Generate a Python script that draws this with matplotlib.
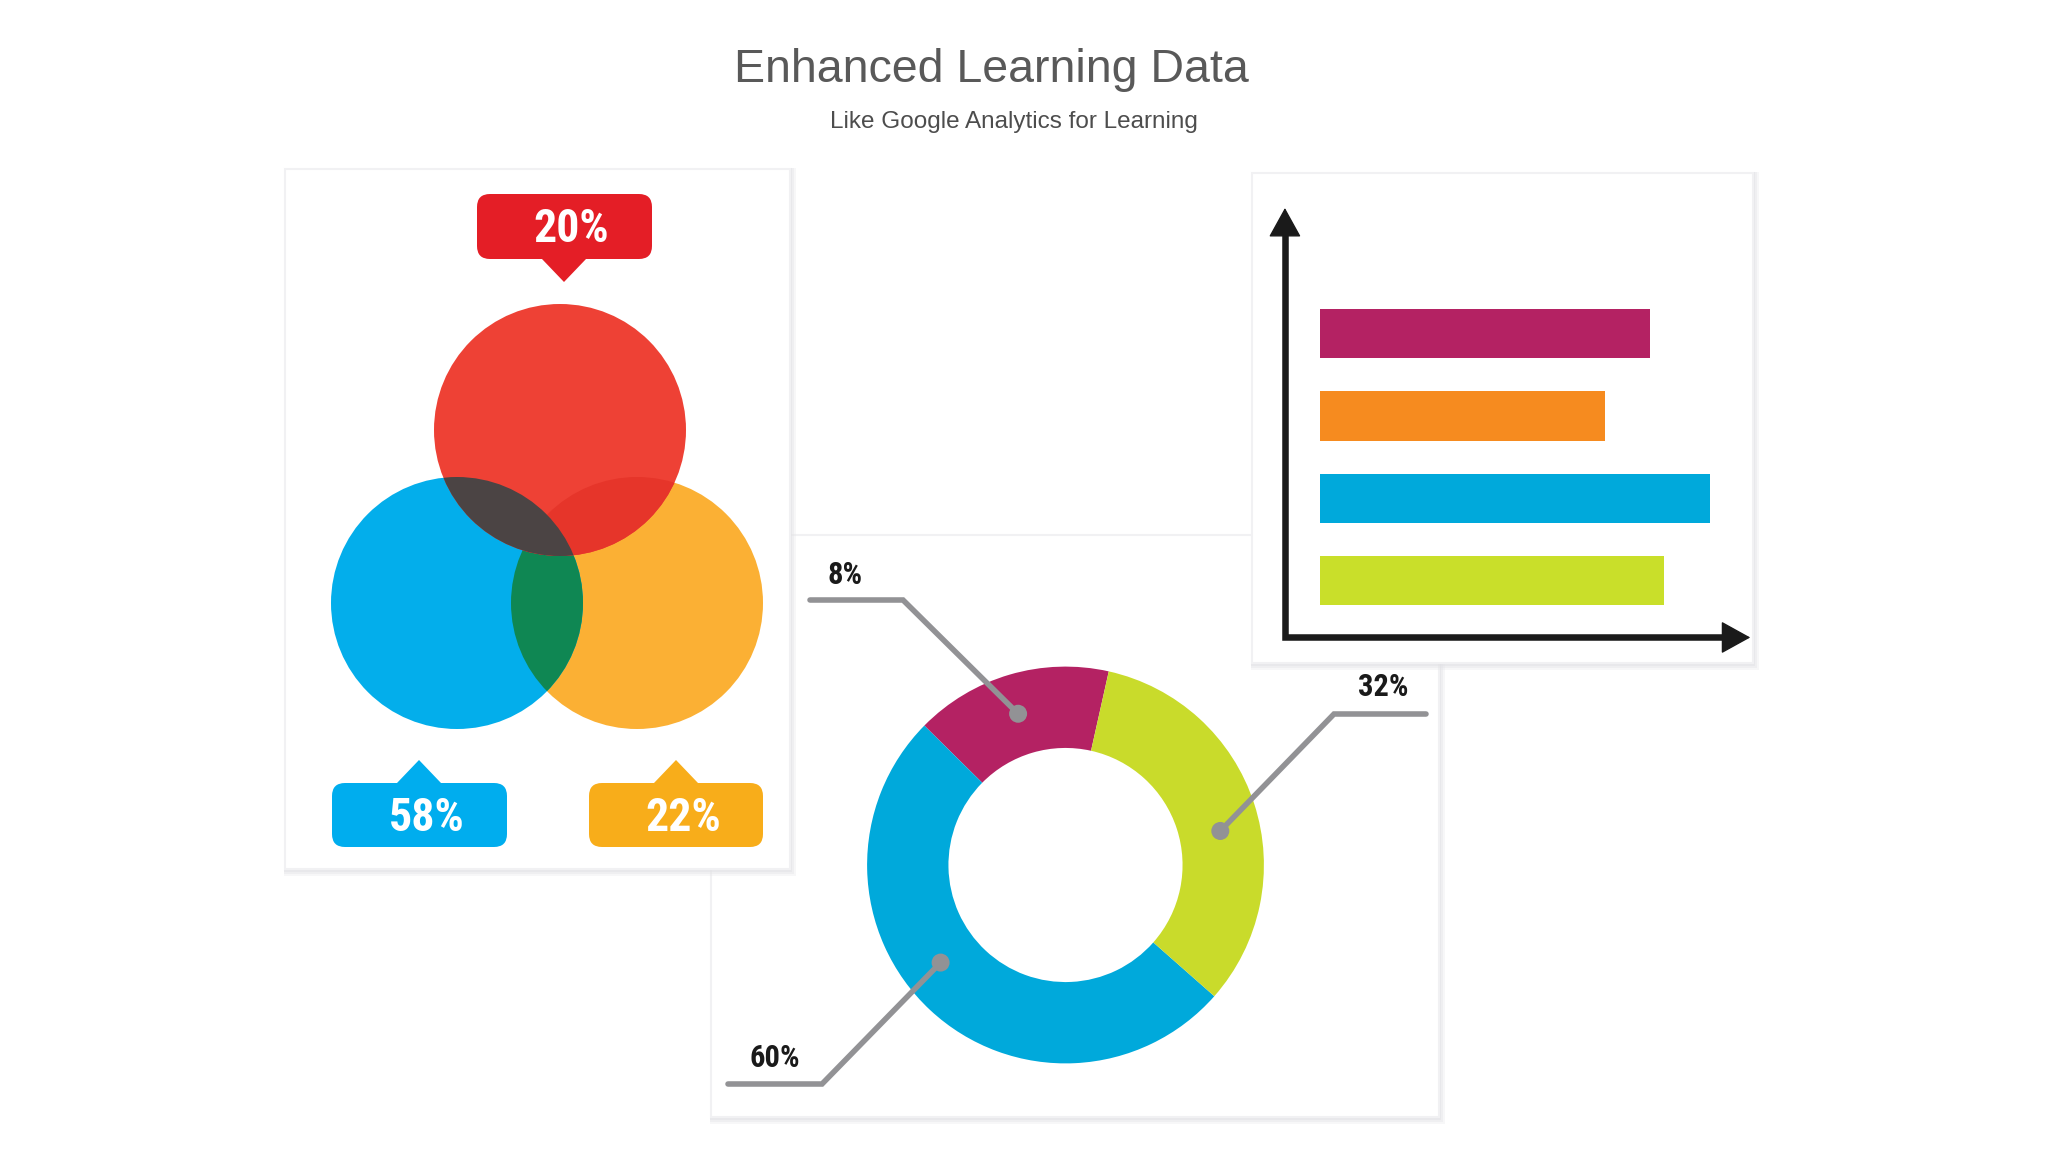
import matplotlib.pyplot as plt
from matplotlib.patches import Circle, Rectangle, FancyBboxPatch, Polygon
import numpy as np

# Data
title = 'Enhanced Learning Data'
subtitle = 'Like Google Analytics for Learning'

venn_labels = ['20%', '58%', '22%']          # red, blue, orange callouts
donut_labels = ['8%', '60%', '32%']          # magenta, blue, green
donut_shares = [16.1, 50.9, 33.0]            # as drawn in the ring
donut_colors = ['#B42263', '#00A9DB', '#C9DB2B']
bar_values = [8.46, 7.31, 10.0, 8.82]        # top to bottom
bar_colors = ['#B42263', '#F68B1F', '#00A9DB', '#C9DF2A']

W, H = 2048, 1152
fig = plt.figure(figsize=(W / 100, H / 100), dpi=100)
fig.patch.set_facecolor('white')

# background axes in pixel coordinates
bg = fig.add_axes([0, 0, 1, 1])
bg.set_xlim(0, W)
bg.set_ylim(H, 0)
bg.axis('off')

cond = ['Roboto Condensed', 'Liberation Sans Narrow', 'DejaVu Sans']


def card(x0, y0, x1, y1, z):
    # soft shadow (mostly bottom/right) then white face
    for d, a in [(7, 0.25), (5, 0.35), (3, 0.5)]:
        bg.add_patch(Rectangle((x0 - 1, y0 - 1), x1 - x0 + d, y1 - y0 + d + 1,
                               facecolor='#E2E2E6', edgecolor='none', alpha=a, zorder=z))
    bg.add_patch(Rectangle((x0, y0), x1 - x0, y1 - y0, facecolor='white',
                           edgecolor='#F1F1F3', lw=1.5, zorder=z + 0.5))


card(711, 535, 1439, 1117, 1)
card(285, 169, 790, 869, 2)
card(1252, 173, 1753, 663, 3)

# titles
bg.text(991, 82, title, ha='center', va='baseline', fontsize=33.5,
        family='Liberation Sans', color='#595959')
bg.text(1014, 128, subtitle, ha='center', va='baseline', fontsize=17.5,
        family='Liberation Sans', color='#4D4D4D')

# Venn diagram
r = 126
c_red, c_blue, c_org = (560, 430), (457, 603), (637, 603)
zv = 5
bg.add_patch(Circle(c_org, r, facecolor='#FBB034', edgecolor='none', zorder=zv))
bg.add_patch(Circle(c_blue, r, facecolor='#03AEEB', edgecolor='none', zorder=zv))
p = Circle(c_blue, r, facecolor='#0F8753', edgecolor='none', zorder=zv + 1)
bg.add_patch(p)
p.set_clip_path(Circle(c_org, r, transform=bg.transData))
bg.add_patch(Circle(c_red, r, facecolor='#EE4135', edgecolor='none', zorder=zv + 2))
p = Circle(c_red, r, facecolor='#E6352A', edgecolor='none', zorder=zv + 3)
bg.add_patch(p)
p.set_clip_path(Circle(c_org, r, transform=bg.transData))
p = Circle(c_red, r, facecolor='#4B4444', edgecolor='none', zorder=zv + 4)
bg.add_patch(p)
p.set_clip_path(Circle(c_blue, r, transform=bg.transData))

# callout boxes: (x0, y0, x1, y1, tip, colour, label)
callouts = [
    (477, 194, 652, 259, (564, 282), '#E41E26', venn_labels[0]),
    (332, 783, 507, 847, (419, 760), '#00ADEE', venn_labels[1]),
    (589, 783, 763, 847, (676, 760), '#F8AD1A', venn_labels[2]),
]
for x0, y0, x1, y1, tip, col, lab in callouts:
    bg.add_patch(FancyBboxPatch((x0, y0), x1 - x0, y1 - y0,
                                boxstyle='round,pad=0,rounding_size=13',
                                facecolor=col, edgecolor='none', zorder=zv + 6))
    base = y1 if tip[1] > y1 else y0
    bg.add_patch(Polygon([(tip[0] - 22, base), (tip[0] + 22, base), tip],
                         closed=True, facecolor=col, edgecolor='none', zorder=zv + 6))
    bg.text((x0 + x1) / 2 + 7, (y0 + y1) / 2 + 3, lab, ha='center', va='center',
            fontsize=33, fontweight='bold', family=cond, color='white', zorder=zv + 7)

# Donut
dcx, dcy, R, S = 1065.5, 865, 198.5, 496
dax = fig.add_axes([(dcx - S / 2) / W, 1 - (dcy + S / 2) / H, S / W, S / H])
dax.pie(donut_shares, colors=donut_colors, startangle=77.4, counterclock=True,
        radius=1, wedgeprops=dict(width=0.41, edgecolor='none'))
dax.set_xlim(-1.25, 1.25)
dax.set_ylim(-1.25, 1.25)
dax.set_aspect('equal')
dax.axis('off')

# overlay axes for leader lines (above the donut)
top = fig.add_axes([0, 0, 1, 1])
top.set_xlim(0, W)
top.set_ylim(H, 0)
top.axis('off')
top.patch.set_alpha(0)

# leader lines: anchor angle on ring, elbow, end, label position
lead_col = '#929295'
rmid = R - 40
leaders = [
    (107.4, (903, 600), (810, 600), (845, 575)),
    (218.0, (822, 1084), (728, 1084), (775, 1058)),
    (12.4, (1334, 714), (1426, 714), (1383, 687)),
]
for (ang, elbow, end, lpos), lab in zip(leaders, donut_labels):
    a = np.deg2rad(ang)
    dot = (dcx + rmid * np.cos(a), dcy - rmid * np.sin(a))
    top.plot([dot[0], elbow[0], end[0]], [dot[1], elbow[1], end[1]], color=lead_col,
             lw=4, solid_capstyle='round', solid_joinstyle='miter', zorder=20)
    top.add_patch(Circle(dot, 9, facecolor=lead_col, edgecolor='none', zorder=21))
    top.text(lpos[0], lpos[1], lab, ha='center', va='center', fontsize=22,
             fontweight='bold', family=cond, color='#1A1A1A', zorder=21)

# Bar chart
bax = fig.add_axes([1252 / W, 1 - 663 / H, 501 / W, 490 / H])
bax.set_xlim(-1.744, 11.10)
bax.set_ylim(4.0, -1.95)
bax.axis('off')
bax.barh(range(len(bar_values)), bar_values, height=0.6, color=bar_colors)

x0, y0 = -0.9, 3.69
bax.plot([x0, x0, 10.4], [-1.22, y0, y0], color='#1A1A1A', lw=4.7,
         solid_joinstyle='miter', solid_capstyle='butt')
arrow = dict(arrowstyle='-|>,head_length=19,head_width=10.5', mutation_scale=1,
             color='#1A1A1A', lw=1, shrinkA=0, shrinkB=0)
bax.annotate('', xy=(x0, -1.525), xytext=(x0, -1.1), arrowprops=arrow)
bax.annotate('', xy=(11.03, y0), xytext=(10.3, y0), arrowprops=arrow)

plt.savefig('out.png', dpi=100)
